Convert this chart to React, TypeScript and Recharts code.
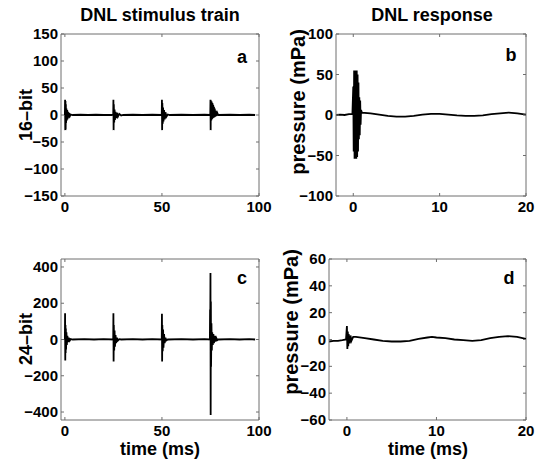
import React from 'react';
import { LineChart, Line, XAxis, YAxis, ReferenceLine } from 'recharts';

// [time (ms), value]
const trainA16: [number, number][] = [
  [0, 0], [0.1, 28], [0.2, -28], [0.3, 26], [0.4, -27], [0.5, 20], [0.6, -15], [0.8, 12], [1.0, -10],
  [1.2, 9], [1.4, -8], [1.6, 6], [1.9, -5], [2.2, 4], [2.6, -2], [3, 1], [4, 0], [8, 0.5], [12, 0],
  [16, 0.5], [20, 0], [24, 0], [24.9, 1], [25, 28], [25.1, -28], [25.2, 20], [25.4, -14], [25.6, 10],
  [25.8, -9], [26.1, 6], [26.4, -6], [26.8, 4], [27.3, -3], [28, 2], [29, -1], [30, 0], [35, 0.5],
  [40, 0], [45, 0.5], [49.9, 0], [50, 28], [50.1, -28], [50.2, 22], [50.4, -16], [50.6, 14], [50.8, -12],
  [51.1, 9], [51.4, -8], [51.8, 5], [52.3, -3], [53, 1], [54, 0], [60, 0.5], [66, 0], [72, 0.5],
  [74.9, 0], [75, 28], [75.1, -28], [75.2, 27], [75.4, -10], [75.6, 25], [75.8, -8], [76.0, 22],
  [76.2, -6], [76.4, 19], [76.6, -5], [76.8, 15], [77.0, -4], [77.2, 12], [77.4, -3], [77.7, 8],
  [78, -2], [78.5, 4], [79, 0], [85, 0.5], [90, 0], [95, 0.5], [98, 0],
];

const responseB16: [number, number][] = [
  [-2, 0], [-1.5, 0.5], [-1, 0], [-0.5, 1], [-0.1, 1], [0, 35], [0.05, -45], [0.1, 55], [0.15, -54],
  [0.2, 55], [0.25, -54], [0.3, 55], [0.35, -54], [0.4, 55], [0.45, -52], [0.5, 50], [0.55, -45],
  [0.6, 40], [0.65, -30], [0.7, 22], [0.75, -25], [0.8, 18], [0.85, -12], [0.9, 6], [1.0, 3], [2, 2],
  [3, 0.5], [4, -1], [5, -2], [6, -2], [7, -1], [8, 0.5], [9, 1.5], [10, 1.5], [11, 0.5], [12, -0.5],
  [13, -1], [14, -1], [15, -0.5], [16, 1], [17, 2], [18, 3], [19, 2], [20, 0.5],
];

const trainC24: [number, number][] = [
  [0, 0], [0.1, 145], [0.2, -116], [0.3, 80], [0.4, -75], [0.5, 60], [0.6, -55], [0.8, 40], [1.0, -30],
  [1.3, 20], [1.6, -15], [2.0, 10], [2.5, -6], [3, 3], [4, 0], [10, 2], [15, 0], [20, 2], [24.9, 0],
  [25, 145], [25.1, -122], [25.2, 80], [25.4, -60], [25.6, 50], [25.8, -40], [26.1, 25], [26.4, -20],
  [26.8, 10], [27.3, -6], [28, 2], [29, 0], [35, 2], [40, 0], [45, 2], [49.9, 0], [50, 142],
  [50.1, -122], [50.2, 80], [50.4, -65], [50.6, 55], [50.8, -45], [51.1, 30], [51.4, -20], [51.8, 10],
  [52.3, -5], [53, 0], [60, 2], [66, 0], [72, 2], [74.7, 0], [74.8, 165], [74.9, 70], [75, 367],
  [75.1, -416], [75.2, 210], [75.3, -150], [75.5, 90], [75.7, -60], [75.9, 40], [76.2, -30], [76.5, 30],
  [76.8, -20], [77.2, 20], [77.6, -12], [78, 8], [78.5, -4], [79, 0], [85, 2], [90, 0], [95, 2], [98, 0],
];

const responseD24: [number, number][] = [
  [-2, -1.5], [-1.5, -1], [-1, -1], [-0.5, -0.5], [-0.1, 0], [0, 10], [0.05, -7], [0.1, 6], [0.15, -5],
  [0.2, 4], [0.3, -3], [0.4, 3], [0.5, -1], [0.7, 2], [1, 2], [2, 1], [3, 0], [4, -1], [5, -1.5],
  [6, -1.5], [7, -1], [8, 0.5], [9, 1.5], [9.5, 2], [10, 1.5], [11, 1], [12, 0], [13, -0.5], [14, -1],
  [15, -0.5], [16, 1], [17, 2], [18, 2.5], [19, 2], [20, 0.5],
];

const trainTimeTicks = [0, 50, 100];
const responseTimeTicks = [0, 10, 20];
const ticksA = [-150, -100, -50, 0, 50, 100, 150];
const ticksB = [-100, -50, 0, 50, 100];
const ticksC = [-400, -200, 0, 200, 400];
const ticksD = [-60, -40, -20, 0, 20, 40, 60];

const FONT = '"Liberation Sans", Arial, Helvetica, sans-serif';
const BOX = '#6e6e6e';
const TICK = 3;

const fmt = (v: number) => (v < 0 ? '\u2212' + Math.abs(v) : String(v));

type Box = { x: number; y: number; w: number; h: number };

function Panel(props: {
  box: Box;
  points: [number, number][];
  xDomain: [number, number];
  yDomain: [number, number];
  xTicks: number[];
  yTicks: number[];
}) {
  const { box, points, xDomain, yDomain, xTicks, yTicks } = props;
  const data = points.map(([t, v]) => ({ t, v }));

  // MATLAB style: inward ticks on all four sides
  const xTick = (p: any) => (
    <g>
      <line x1={p.x} y1={p.y} x2={p.x} y2={p.y - TICK} stroke={BOX} />
      <line x1={p.x} y1={p.y - box.h} x2={p.x} y2={p.y - box.h + TICK} stroke={BOX} />
      <text x={p.x} y={p.y + 16} textAnchor="middle" fontSize={15} fontWeight="bold" fill="#000" fontFamily={FONT}>
        {fmt(p.payload.value)}
      </text>
    </g>
  );
  const yTick = (p: any) => (
    <g>
      <line x1={p.x} y1={p.y} x2={p.x + TICK} y2={p.y} stroke={BOX} />
      <line x1={p.x + box.w} y1={p.y} x2={p.x + box.w - TICK} y2={p.y} stroke={BOX} />
      <text x={p.x - 3} y={p.y + 5} textAnchor="end" fontSize={15} fontWeight="bold" fill="#000" fontFamily={FONT}>
        {fmt(p.payload.value)}
      </text>
    </g>
  );

  return (
    <div style={{ position: 'absolute', left: box.x - 55, top: box.y - 10 }}>
      <LineChart width={box.w + 80} height={box.h + 40} data={data} margin={{ top: 10, right: 25, bottom: 0, left: 0 }}>
        <XAxis
          type="number"
          dataKey="t"
          domain={xDomain}
          ticks={xTicks}
          allowDataOverflow
          interval={0}
          height={30}
          tickSize={0}
          tickMargin={0}
          tickLine={false}
          axisLine={{ stroke: BOX }}
          tick={xTick}
        />
        <YAxis
          type="number"
          domain={yDomain}
          ticks={yTicks}
          allowDataOverflow
          interval={0}
          width={55}
          tickSize={0}
          tickMargin={0}
          tickLine={false}
          axisLine={{ stroke: BOX }}
          tick={yTick}
        />
        <ReferenceLine x={xDomain[1]} stroke={BOX} />
        <ReferenceLine y={yDomain[1]} stroke={BOX} />
        <Line type="linear" dataKey="v" stroke="#000" strokeWidth={1.8} dot={false} isAnimationActive={false} />
      </LineChart>
    </div>
  );
}

function Text(props: { x: number; y: number; text: string; size?: number; rotate?: boolean }) {
  const { x, y, text, size = 18, rotate } = props;
  return (
    <div
      style={{
        position: 'absolute',
        left: x,
        top: y,
        transform: `translate(-50%, -50%)${rotate ? ' rotate(-90deg)' : ''}`,
        whiteSpace: 'nowrap',
        fontWeight: 'bold',
        fontSize: size,
        lineHeight: 1,
        fontFamily: FONT,
        color: '#000',
      }}
    >
      {text}
    </div>
  );
}

export default function App() {
  return (
    <div style={{ position: 'absolute', left: 0, top: 0, width: 536, height: 464, background: '#fff', overflow: 'hidden' }}>
      <Panel box={{ x: 61, y: 34, w: 198, h: 162 }} points={trainA16} xDomain={[-2, 100]} yDomain={[-150, 150]} xTicks={trainTimeTicks} yTicks={ticksA} />
      <Panel box={{ x: 336, y: 34, w: 190, h: 162 }} points={responseB16} xDomain={[-2, 20]} yDomain={[-100, 100]} xTicks={responseTimeTicks} yTicks={ticksB} />
      <Panel box={{ x: 61, y: 259, w: 198, h: 161 }} points={trainC24} xDomain={[-2, 100]} yDomain={[-444, 444]} xTicks={trainTimeTicks} yTicks={ticksC} />
      <Panel box={{ x: 329, y: 259, w: 197, h: 161 }} points={responseD24} xDomain={[-2, 20]} yDomain={[-60, 60]} xTicks={responseTimeTicks} yTicks={ticksD} />

      <Text x={160} y={15} text="DNL stimulus train" />
      <Text x={432} y={15} text="DNL response" />
      <Text x={26} y={115} text="16–bit" rotate />
      <Text x={26} y={339} text="24–bit" rotate />
      <Text x={298} y={102} text="pressure (mPa)" size={20} rotate />
      <Text x={291} y={322} text="pressure (mPa)" size={20} rotate />
      <Text x={160} y={449} text="time (ms)" />
      <Text x={428} y={449} text="time (ms)" />

      <Text x={242} y={57} text="a" />
      <Text x={511} y={55} text="b" />
      <Text x={242} y={278} text="c" />
      <Text x={509} y={278} text="d" />
    </div>
  );
}
